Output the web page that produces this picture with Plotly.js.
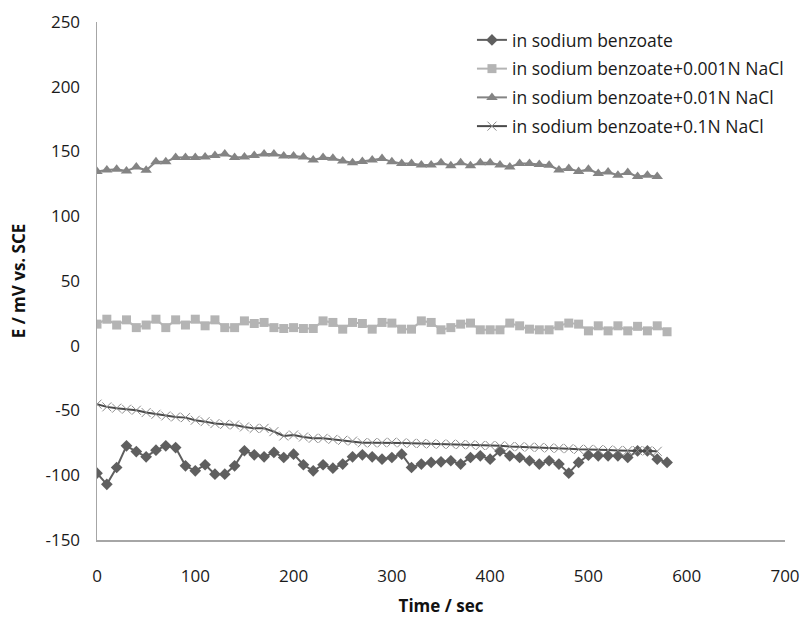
<!DOCTYPE html>
<html>
<head>
<meta charset="utf-8">
<script src="https://cdn.plot.ly/plotly-3.0.1.min.js"></script>
<style>html,body{margin:0;padding:0;background:#fff;}#chart{width:806px;height:617px;}</style>
</head>
<body>
<div id="chart"></div>
<script>
// Time (sec) for each series
const timeBenzoate = [0,10,20,30,40,50,60,70,80,90,100,110,120,130,140,150,160,170,180,190,200,210,220,230,240,250,260,270,280,290,300,310,320,330,340,350,360,370,380,390,400,410,420,430,440,450,460,470,480,490,500,510,520,530,540,550,560,570,580];
const time001 = timeBenzoate.slice();
const time01 = timeBenzoate.slice(0, 58);
const time1 = timeBenzoate.slice(0, 58);

// E / mV vs. SCE
const eBenzoate = [-98.4,-107,-94,-77.3,-81.7,-85.8,-80.6,-77.3,-78.6,-92.7,-96.6,-91.9,-99.2,-99.2,-92.7,-81.1,-84.2,-85.8,-82.4,-86.3,-83.7,-91.9,-96.6,-91.9,-94.5,-91.4,-85.8,-84.2,-85.8,-87.6,-86.3,-83.7,-94,-91.4,-90.1,-89.6,-88.8,-91.4,-86.3,-85,-87.6,-81.2,-85,-86.3,-88.8,-91.4,-88.8,-91.4,-98.4,-90.1,-84.5,-85,-85,-85,-86.3,-81.2,-81.2,-87.6,-90.1];
const e001 = [16.7,20.5,16,20,14,16,20.5,14,20,16,20.5,15.4,20,14,14,19.2,17.2,18,14,13.3,14,13.3,13.3,19.2,18,12.8,18,17.2,12.8,18,17.5,12.8,12.8,19.2,18,12.3,14,16.7,17.5,12.3,12.3,12.3,17.5,15.4,12.8,12.3,12.3,15.4,17.5,16.7,11.5,15.4,11.5,15.4,11.5,15,11.5,15.4,10.8];
const e01 = [134.5,135.8,136.3,135,138,135.5,142,142,145.3,145.3,145.3,145.8,147,148,145.3,145.8,147,148,148,146.6,146.6,145.8,143.5,145.3,144.8,142.7,141.4,142.2,143.5,144.5,142,140.7,140.7,139.6,139.6,141.4,138.9,141.4,138.9,141.4,141.4,139.6,138,140.7,140.7,140,139.4,135.8,136.8,134.5,136.3,133,134.2,131.7,133.7,130.6,131.7,130.6];
const e1 = [-45.1,-47.2,-48.2,-49,-49.8,-51.6,-52.9,-54.2,-55,-55.5,-57.5,-58.6,-60.1,-60.7,-61.2,-62.7,-63.8,-63.8,-66.3,-69.7,-68.9,-70.5,-71.5,-71.5,-72.3,-73,-73.6,-74.9,-74.9,-74.9,-74.5,-75,-75.3,-75.5,-75.8,-76,-76,-76.3,-76.5,-77,-77,-77.3,-77.8,-78,-78.3,-78.5,-79,-79.2,-79.5,-80,-80,-80.3,-80.5,-80.8,-81,-81,-81.2,-81.5];

const seriesNames = ["in sodium benzoate","in sodium benzoate+0.001N NaCl","in sodium benzoate+0.01N NaCl","in sodium benzoate+0.1N NaCl"];

// Tick labels (hyphen-minus as in the original)
const xTickVals = [0,100,200,300,400,500,600,700];
const xTickText = ["0","100","200","300","400","500","600","700"];
const yTickVals = [-150,-100,-50,0,50,100,150,200,250];
const yTickText = ["-150","-100","-50","0","50","100","150","200","250"];

const traces = [
  {x: timeBenzoate, y: eBenzoate, name: seriesNames[0], legendgroup: 'a', type: 'scatter', mode: 'lines+markers',
   line: {color: '#5f5f5f', width: 2}, marker: {symbol: 'diamond', size: 9, color: '#5f5f5f'}},
  {x: time001, y: e001, name: seriesNames[1], legendgroup: 'b', type: 'scatter', mode: 'lines+markers',
   line: {color: '#b4b4b4', width: 2}, marker: {symbol: 'square', size: 9, color: '#b4b4b4'}},
  {x: time01, y: e01, name: seriesNames[2], legendgroup: 'c', type: 'scatter', mode: 'lines+markers',
   line: {color: '#848484', width: 2}, marker: {symbol: 'triangle-up', size: 10, color: '#848484'}},
  {x: time1, y: e1, name: seriesNames[3], legendgroup: 'd', type: 'scatter', mode: 'lines+markers',
   line: {color: '#4a4a4a', width: 2}, marker: {symbol: 'x-thin-open', size: 9, color: '#8a8a8a', line: {color: '#8a8a8a', width: 1}}}
];

const font = '"Open Sans", "Noto Sans", "DejaVu Sans", sans-serif';
const txt = '#1a1a1a';
const layout = {
  width: 806, height: 617,
  margin: {l: 97, r: 21, t: 22, b: 77},
  paper_bgcolor: '#ffffff', plot_bgcolor: '#ffffff',
  font: {family: font, size: 16, color: txt},
  showlegend: true,
  legend: {x: 0.545, y: 1.0, xanchor: 'left', yanchor: 'top', bgcolor: 'rgba(0,0,0,0)',
           font: {family: font, size: 17.5, color: txt}, itemwidth: 30, tracegroupgap: 3},
  xaxis: {range: [0, 700], tickmode: 'array', tickvals: xTickVals, ticktext: xTickText,
          showgrid: false, zeroline: false,
          showline: true, linecolor: '#a6a6a6', linewidth: 1.5, ticks: 'outside', ticklen: 20, tickcolor: 'rgba(0,0,0,0)',
          tickfont: {family: font, size: 17, color: txt},
          title: {text: '<b>Time / sec</b>', font: {family: font, size: 17, color: '#111111'}, standoff: 14}},
  yaxis: {range: [-150, 250], tickmode: 'array', tickvals: yTickVals, ticktext: yTickText,
          showgrid: false, zeroline: false,
          showline: true, linecolor: '#a6a6a6', linewidth: 1.5, ticks: 'outside', ticklen: 12, tickcolor: 'rgba(0,0,0,0)',
          tickfont: {family: font, size: 17, color: txt},
          title: {text: '<b>E / mV vs. SCE</b>', font: {family: font, size: 17, color: '#111111'}, standoff: 15}}
};

Plotly.newPlot('chart', traces, layout, {displayModeBar: false, staticPlot: true});
</script>
</body>
</html>
